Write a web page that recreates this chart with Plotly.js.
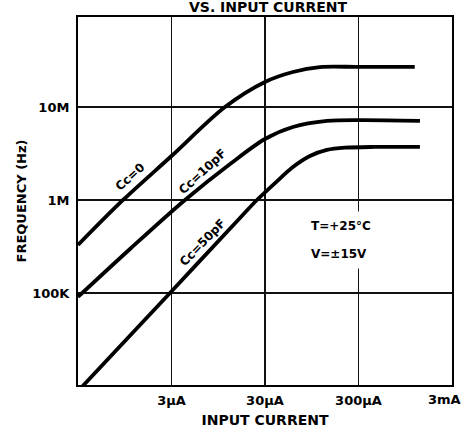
<!DOCTYPE html>
<html>
<head>
<meta charset="utf-8">
<script src="https://cdn.plot.ly/plotly-3.0.1.min.js"></script>
<style>
html,body{margin:0;padding:0;background:#fff;}
#chart{width:464px;height:431px;}
</style>
</head>
<body>
<div id="chart"></div>
<script>
// Input current in µA, frequency in Hz
const current_c0 = [0.3, 0.91, 3, 11.2, 30, 59.7, 116, 300, 1200];
const freq_c0    = [3.28e5, 1e6, 2.97e6, 1e7, 1.86e7, 2.38e7, 2.69e7, 2.7e7, 2.7e7];

const current_c10 = [0.3, 1.08, 4.18, 12.7, 30, 59.7, 138, 311, 1364];
const freq_c10    = [9.06e4, 2.97e5, 1e6, 2.44e6, 4.53e6, 6.1e6, 7.08e6, 7.24e6, 7.1e6];

const current_c50 = [0.3, 2.89, 16.2, 24.6, 38.4, 59.7, 90.8, 138, 215, 450, 1364];
const freq_c50    = [8.8e3, 1e5, 6.4e5, 1e6, 1.52e6, 2.26e6, 2.97e6, 3.45e6, 3.65e6, 3.72e6, 3.72e6];

const seriesNames = ["Cc=0", "Cc=10pF", "Cc=50pF"];

const xTickVals = [3, 30, 300, 3000];
const xTickText = ["3µA", "30µA", "300µA", "3mA"];
const yTickVals = [1e5, 1e6, 1e7];
const yTickText = ["100K", "1M", "10M"];

const FONT = "DejaVu Sans";
const lineStyle = {color: "#000", width: 3.8, shape: "spline", smoothing: 0.9};

const traces = [
  {x: current_c0, y: freq_c0, name: seriesNames[0]},
  {x: current_c10, y: freq_c10, name: seriesNames[1]},
  {x: current_c50, y: freq_c50, name: seriesNames[2]}
].map(t => Object.assign(t, {type: "scatter", mode: "lines", line: lineStyle, hoverinfo: "skip"}));

const lblFont = {family: FONT, size: 12, color: "#000", weight: "bold"};
const tickFont = {family: FONT, size: 13, color: "#000", weight: "bold"};

// the last tick label sits at the right edge; it is drawn as an annotation kept inside the page
const lastTick = xTickText.length - 1;
const shownTickText = xTickText.map((t, i) => (i === lastTick ? "" : t));

const layout = {
  width: 464, height: 431,
  margin: {l: 78, r: 12, t: 17, b: 46, pad: 0},
  paper_bgcolor: "#fff", plot_bgcolor: "#fff",
  showlegend: false,
  xaxis: {
    type: "log", range: [Math.log10(0.3), Math.log10(3000) + 0.0005],
    tickvals: xTickVals, ticktext: shownTickText, ticks: "",
    showgrid: true, gridcolor: "#111", gridwidth: 1.5,
    showline: true, linecolor: "#000", linewidth: 2, mirror: true,
    zeroline: false, ticklabelstandoff: 2,
    tickfont: tickFont,
    title: {text: "INPUT CURRENT", standoff: 9, font: {family: FONT, size: 14, color: "#000", weight: "bold"}}
  },
  yaxis: {
    type: "log", range: [4.01, 7.968],
    tickvals: yTickVals, ticktext: yTickText, ticks: "",
    showgrid: true, gridcolor: "#111", gridwidth: 1.5,
    showline: true, linecolor: "#000", linewidth: 2, mirror: true,
    zeroline: false, ticklabelstandoff: 4,
    tickfont: tickFont,
    title: {text: "FREQUENCY (Hz)", standoff: 3, font: {family: FONT, size: 13, color: "#000", weight: "bold"}}
  },
  annotations: [
    {text: "VS. INPUT CURRENT", xref: "paper", yref: "paper", x: 0.51, y: 1.003, yanchor: "bottom", xanchor: "center",
     borderpad: 0, showarrow: false, font: {family: FONT, size: 14, color: "#000", weight: "bold"}},
    {text: xTickText[lastTick], xref: "paper", yref: "paper", x: 1.026, y: -0.04, xanchor: "right", yanchor: "middle",
     borderpad: 0, showarrow: false, font: tickFont},
    {text: seriesNames[0], xref: "paper", yref: "paper", x: 0.139, y: 0.565, xanchor: "center", yanchor: "middle",
     showarrow: false, textangle: -42, font: lblFont},
    {text: seriesNames[1], xref: "paper", yref: "paper", x: 0.332, y: 0.579, xanchor: "center", yanchor: "middle",
     showarrow: false, textangle: -43, font: lblFont},
    {text: seriesNames[2], xref: "paper", yref: "paper", x: 0.332, y: 0.386, xanchor: "center", yanchor: "middle",
     showarrow: false, textangle: -46, font: lblFont},
    {text: "T=+25°C", xref: "paper", yref: "paper", x: 0.602, y: 0.432, xanchor: "left", yanchor: "middle", showarrow: false,
     bgcolor: "#fff", borderpad: 7, font: lblFont},
    {text: "V=±15V", xref: "paper", yref: "paper", x: 0.602, y: 0.356, xanchor: "left", yanchor: "middle", showarrow: false,
     bgcolor: "#fff", borderpad: 7, font: lblFont}
  ]
};

Plotly.newPlot("chart", traces, layout, {staticPlot: true, displayModeBar: false});
</script>
</body>
</html>
